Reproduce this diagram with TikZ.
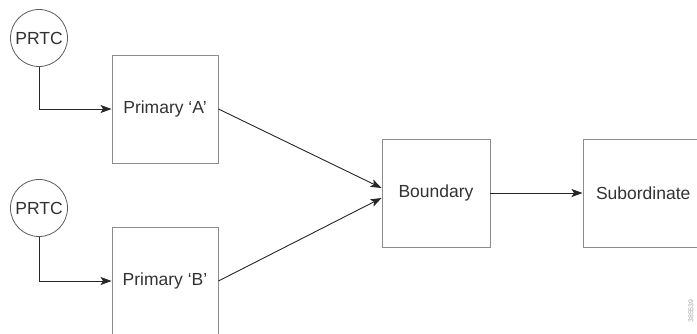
\documentclass[tikz,border=0pt]{standalone}
\usepackage{fontspec}
\setmainfont{Liberation Sans}
\usetikzlibrary{arrows.meta}
\definecolor{boxgray}{RGB}{140,140,140}
\definecolor{txtgray}{RGB}{50,50,50}
\tikzset{
  blk/.style={draw=boxgray, line width=0.9pt, minimum width=106pt, minimum height=108pt, inner sep=0pt, text=txtgray, font=\fontsize{17.5}{19}\selectfont},
  src/.style={draw=txtgray!80, circle, line width=0.8pt, minimum size=57pt, inner sep=0pt, text=txtgray, font=\fontsize{17.5}{19}\selectfont},
  conn/.style={draw=black!85, line width=0.9pt, -{Stealth[length=11pt,width=8pt,inset=2.5pt]}}
}
\begin{document}
\begin{tikzpicture}[x=1pt,y=1pt]
\useasboundingbox (0,0) rectangle (697,333);
\clip (0,0) rectangle (697,333);
\node[src] (pa) at (39,295) {PRTC};
\node[src] (pb) at (39,125) {PRTC};
\node[blk] (ba) at (165,224) {Primary ‘A’};
\node[blk] (bb) at (165,52) {Primary ‘B’};
\node[blk, minimum width=108pt] (bd) at (436,140) {Boundary};
\node[blk, minimum width=140pt, text width=114pt, inner xsep=13pt, align=left] (sb) at (653,140) {Subordinate};
\node[rotate=90, text=black!35, font=\fontsize{7}{8}\selectfont, inner sep=0pt] (id) at (691,22) {385539};
\draw[conn] (pa.south) |- (ba.west);
\draw[conn] (pb.south) |- (bb.west);
\draw[conn] (ba.east) -- ([yshift=5pt]bd.west);
\draw[conn] (bb.east) -- ([yshift=-5pt]bd.west);
\draw[conn] (bd.east) -- (sb.west);
\end{tikzpicture}
\end{document}
